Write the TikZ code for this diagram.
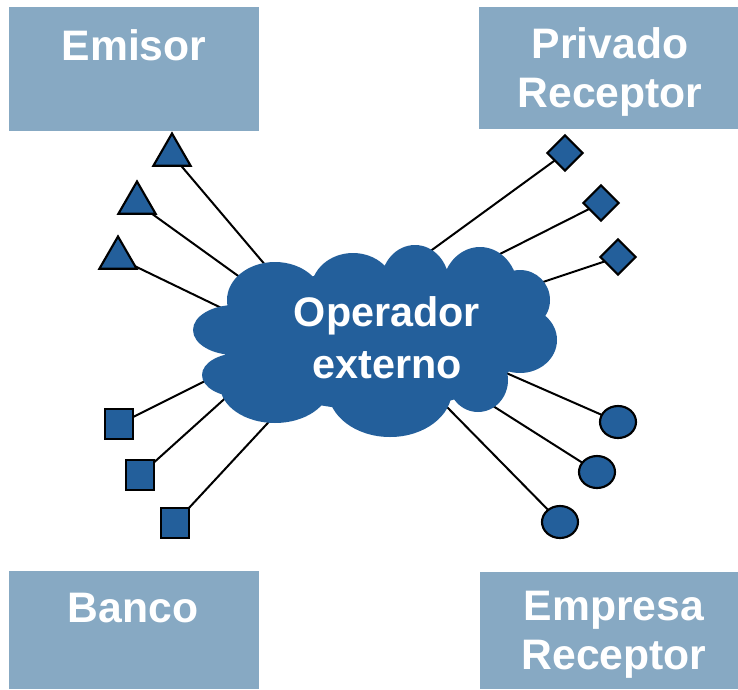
\documentclass[tikz,border=0pt]{standalone}
\usepackage{fontspec}
\setmainfont{Liberation Sans}
\usetikzlibrary{shapes.geometric,backgrounds}
\definecolor{boxc}{RGB}{135,169,195}
\definecolor{cloudc}{RGB}{35,95,155}
\tikzset{
  boxnode/.style={rectangle, fill=boxc, draw=none, inner sep=0pt},
  boxtext/.style={text=white, font=\bfseries\fontsize{32}{37}\selectfont, align=center, inner sep=0pt},
  cloudtext/.style={text=white, font=\bfseries\fontsize{31}{39}\selectfont, align=center, inner sep=0pt},
  link/.style={draw=black, line width=1.5pt},
  tri/.style={regular polygon, regular polygon sides=3, minimum size=32.25pt, inner sep=0pt, fill=cloudc, draw=black, line width=1.6pt},
  dia/.style={diamond, minimum width=27pt, minimum height=27pt, inner sep=0pt, fill=cloudc, draw=black, line width=1.6pt},
  sq/.style={rectangle, minimum width=21pt, minimum height=22.5pt, inner sep=0pt, fill=cloudc, draw=black, line width=1.6pt},
  circ/.style={ellipse, minimum width=27pt, minimum height=24pt, inner sep=0pt, fill=cloudc, draw=black, line width=1.6pt}
}
\begin{document}
\begin{tikzpicture}[x=0.75pt, y=-0.75pt]
\useasboundingbox (0,0) rectangle (738,689);
% boxes
\node[boxnode, minimum width=187.5pt, minimum height=93pt] (emisor) at (134,69) {};
\node[boxnode, minimum width=194.25pt, minimum height=91.5pt] (privado) at (608.5,68) {};
\node[boxnode, minimum width=187.5pt, minimum height=88.5pt] (banco) at (134,630) {};
\node[boxnode, minimum width=193.5pt, minimum height=87.75pt] (empresa) at (609,630.5) {};
\node[boxtext, anchor=base] (emisorT) at (134,60) {Emisor};
\node[boxtext] (privadoT) at (610,72) {Privado\\Receptor};
\node[boxtext, anchor=base] (bancoT) at (133,622) {Banco};
\node[boxtext] (empresaT) at (614,635) {Empresa\\Receptor};
% shapes
\node[tri] (t1) at (172,155) {};
\node[tri] (t2) at (137,203) {};
\node[tri] (t3) at (118,258) {};
\node[dia] (d1) at (565,153) {};
\node[dia] (d2) at (601,203) {};
\node[dia] (d3) at (618,257) {};
\node[sq] (s1) at (119,424) {};
\node[sq] (s2) at (140,475) {};
\node[sq] (s3) at (175,523) {};
\node[circ] (c1) at (618,422) {};
\node[circ] (c2) at (597,472) {};
\node[circ] (c3) at (560,522) {};
% cloud-side ends
\coordinate (et1) at (272,273);
\coordinate (et2) at (248,283);
\coordinate (et3) at (236,315);
\coordinate (ed1) at (425,255);
\coordinate (ed2) at (494,257);
\coordinate (ed3) at (531,286);
\coordinate (es1) at (211,378);
\coordinate (es2) at (231,393);
\coordinate (es3) at (278,412);
\coordinate (ec1) at (504,372);
\coordinate (ec2) at (482,399);
\coordinate (ec3) at (445,405);
% connectors (behind shapes)
\begin{pgfonlayer}{background}
\draw[link] (t1.center) -- (et1);
\draw[link] (t2.center) -- (et2);
\draw[link] (t3.center) -- (et3);
\draw[link] (d1.center) -- (ed1);
\draw[link] (d2.center) -- (ed2);
\draw[link] (d3.center) -- (ed3);
\draw[link] (s1.center) -- (es1);
\draw[link] (s2.center) -- (es2);
\draw[link] (s3.center) -- (es3);
\draw[link] (c1.center) -- (ec1);
\draw[link] (c2.center) -- (ec2);
\draw[link] (c3.center) -- (ec3);
\end{pgfonlayer}
% cloud
\fill[cloudc]
  (275,300) ellipse [x radius=48, y radius=38]
  (353,290) ellipse [x radius=42, y radius=37]
  (415,283) ellipse [x radius=34, y radius=38]
  (480,290) ellipse [x radius=38, y radius=43]
  (520,300) ellipse [x radius=30, y radius=30]
  (520,340) ellipse [x radius=37, y radius=33]
  (478,380) ellipse [x radius=30, y radius=32]
  (390,390) ellipse [x radius=62, y radius=47]
  (275,385) ellipse [x radius=55, y radius=38]
  (240,375) ellipse [x radius=38, y radius=22]
  (235,330) ellipse [x radius=42, y radius=25]
  (375,340) ellipse [x radius=150, y radius=70];
\node[cloudtext] (op) at (387,338) {Operador\\externo};
\end{tikzpicture}
\end{document}
